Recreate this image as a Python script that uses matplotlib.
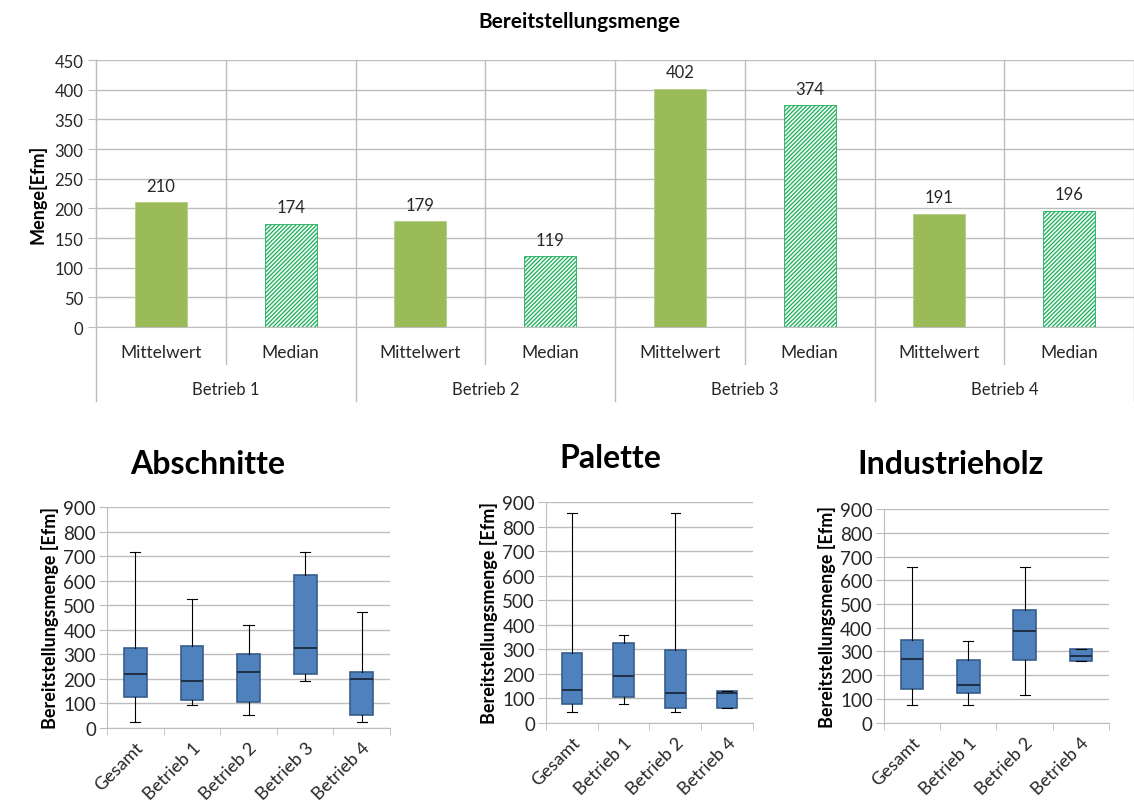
import matplotlib.pyplot as plt

plt.rcParams['font.family'] = ['Lato', 'DejaVu Sans']
plt.rcParams['hatch.linewidth'] = 0.9

# Bereitstellungsmenge je Betrieb
groups = ['Betrieb 1', 'Betrieb 2', 'Betrieb 3', 'Betrieb 4']
stats = ['Mittelwert', 'Median']
mean_vals = [210, 179, 402, 191]
median_vals = [174, 119, 374, 196]

# Boxplot-Kennwerte: (Minimum, Q1, Median, Q3, Maximum)
abschnitte_labels = ['Gesamt', 'Betrieb 1', 'Betrieb 2', 'Betrieb 3', 'Betrieb 4']
abschnitte_min = [24, 92, 52, 191, 24]
abschnitte_q1 = [126, 113, 106, 220, 54]
abschnitte_med = [220, 190, 228, 326, 198]
abschnitte_q3 = [326, 334, 303, 622, 228]
abschnitte_max = [717, 527, 418, 717, 474]

palette_labels = ['Gesamt', 'Betrieb 1', 'Betrieb 2', 'Betrieb 4']
palette_min = [45, 79, 45, 61]
palette_q1 = [79, 106, 61, 61]
palette_med = [133, 190, 124, 124]
palette_q3 = [285, 324, 297, 130]
palette_max = [857, 357, 857, 130]

industrie_labels = ['Gesamt', 'Betrieb 1', 'Betrieb 2', 'Betrieb 4']
industrie_min = [74, 74, 118, 260]
industrie_q1 = [142, 126, 264, 260]
industrie_med = [267, 157, 388, 279]
industrie_q3 = [347, 265, 476, 309]
industrie_max = [656, 343, 656, 309]

GRID = '#BDBDBD'
TEXT = '#262626'

fig = plt.figure(figsize=(11.34, 8.03), dpi=100)

# ---------- oberes Balkendiagramm ----------
ax = fig.add_axes([0.0847, 0.5915, 0.9153, 0.3325])
n = len(groups) * len(stats)
for i, g in enumerate(groups):
    xm = 2 * i + 0.5
    xd = 2 * i + 1.5
    ax.bar(xm, mean_vals[i], width=0.4, color='#9BBB59', edgecolor='#B5CD85', linewidth=0.6, zorder=3)
    ax.bar(xd, median_vals[i], width=0.4, color='#F2FBF5', edgecolor='#1DAE5C', hatch='////////', linewidth=0.6, zorder=3)
    ax.text(xm, mean_vals[i] + 14, str(mean_vals[i]), ha='center', va='bottom', fontsize=12, color=TEXT)
    ax.text(xd, median_vals[i] + 14, str(median_vals[i]), ha='center', va='bottom', fontsize=12, color=TEXT)

ax.set_xlim(0, n)
ax.set_ylim(0, 450)
ax.set_yticks(range(0, 451, 50))
ax.tick_params(axis='y', length=6, color=GRID, labelsize=12, labelcolor=TEXT, pad=3)
ax.set_xticks([k + 0.5 for k in range(n)])
ax.set_xticklabels(stats * len(groups))
ax.tick_params(axis='x', length=0, labelsize=12.5, labelcolor=TEXT, pad=12)
ax.grid(axis='y', color=GRID, linewidth=1)
ax.set_axisbelow(True)
for s in ['top', 'right']:
    ax.spines[s].set_visible(False)
for s in ['left', 'bottom']:
    ax.spines[s].set_color(GRID)

# Trennlinien der Kategorien (zweistufige Achse)
trans = ax.get_xaxis_transform()
for k in range(n + 1):
    low = -0.277 if k % 2 == 0 else -0.139
    ax.plot([k, k], [low, 1], color=GRID, linewidth=1, transform=trans, clip_on=False, zorder=1)
for i, g in enumerate(groups):
    ax.text(2 * i + 1, -0.232, g, transform=trans, ha='center', va='center', fontsize=12, color=TEXT)

ax.set_ylabel('Menge[Efm]', fontsize=13, fontweight='bold', color='black', labelpad=6)
fig.text(0.511, 0.973, 'Bereitstellungsmenge', ha='center', va='center', fontsize=15, fontweight='bold')


# ---------- Boxplots ----------
def boxplot(rect, title, title_xy, labels, lo, q1, med, q3, hi):
    bx = fig.add_axes(rect)
    data = []
    for i in range(len(labels)):
        data.append({'whislo': lo[i], 'q1': q1[i], 'med': med[i], 'q3': q3[i], 'whishi': hi[i], 'label': labels[i]})
    pos = [i + 0.5 for i in range(len(labels))]
    bx.bxp(data, positions=pos, widths=0.4, showfliers=False, patch_artist=True,
           boxprops=dict(facecolor='#4F81BD', edgecolor='#385D8A', linewidth=1.2),
           medianprops=dict(color='#1F2E44', linewidth=1.4),
           whiskerprops=dict(color='black', linewidth=0.8),
           capprops=dict(color='black', linewidth=0.8),
           capwidths=0.18, zorder=3)
    bx.set_xlim(0, len(labels))
    bx.set_ylim(0, 900)
    bx.set_yticks(range(0, 901, 100))
    bx.tick_params(axis='y', length=6, color=GRID, labelsize=13.5, labelcolor=TEXT, pad=2)
    bx.set_xticks(pos)
    bx.set_xticklabels(labels, rotation=45, ha='right', rotation_mode='anchor')
    bx.tick_params(axis='x', which='major', length=0, labelsize=13, labelcolor=TEXT, pad=8)
    bx.set_xticks(range(len(labels) + 1), minor=True)
    bx.tick_params(axis='x', which='minor', length=5, color=GRID, direction='out')
    bx.grid(axis='y', color=GRID, linewidth=1)
    bx.set_axisbelow(True)
    for s in ['top', 'right']:
        bx.spines[s].set_visible(False)
    for s in ['left', 'bottom']:
        bx.spines[s].set_color(GRID)
    bx.set_ylabel('Bereitstellungsmenge [Efm]', fontsize=13, fontweight='bold', labelpad=3)
    fig.text(title_xy[0], title_xy[1], title, ha='center', va='center', fontsize=23, fontweight='bold')
    return bx


boxplot([0.0944, 0.0922, 0.2496, 0.2752], 'Abschnitte', (0.183, 0.421), abschnitte_labels,
        abschnitte_min, abschnitte_q1, abschnitte_med, abschnitte_q3, abschnitte_max)
boxplot([0.4815, 0.0984, 0.1825, 0.2752], 'Palette', (0.538, 0.429), palette_labels,
        palette_min, palette_q1, palette_med, palette_q3, palette_max)
boxplot([0.7795, 0.0988, 0.1984, 0.2660], 'Industrieholz', (0.838, 0.421), industrie_labels,
        industrie_min, industrie_q1, industrie_med, industrie_q3, industrie_max)

fig.savefig('out.png', dpi=100)
